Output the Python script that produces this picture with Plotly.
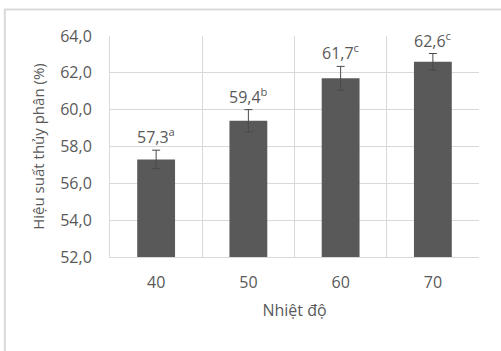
import plotly.graph_objects as go

categories = ["40", "50", "60", "70"]
values = [57.3, 59.4, 61.7, 62.6]
errors = [0.5, 0.6, 0.65, 0.45]
letters = ["a", "b", "c", "c"]
y_ticks = [52, 54, 56, 58, 60, 62, 64]
y_tick_text = ["52,0", "54,0", "56,0", "58,0", "60,0", "62,0", "64,0"]

FONT = "Open Sans"
TXT = "#595959"
GRID = "#d9d9d9"

fig = go.Figure()
fig.add_trace(go.Bar(
    x=categories, y=values,
    marker=dict(color="#595959", line=dict(width=0)),
    error_y=dict(type="data", array=errors, visible=True,
                 color="#4a4a4a", thickness=1, width=4),
    width=0.41,
    hoverinfo="skip",
))

for i, (v, e, l) in enumerate(zip(values, errors, letters)):
    fig.add_annotation(
        x=i, y=v + e, yanchor="bottom", yshift=0,
        text=f"{v:.1f}".replace(".", ",")
             + f"<sup><span style='color:{TXT}'>{l}</span></sup>",
        showarrow=False, font=dict(family=FONT, size=16, color=TXT),
    )

# chart outer border (cut by the image edges)
fig.add_shape(type="rect", xref="paper", yref="paper",
              x0=-0.285, x1=2, y0=-2, y1=1.12,
              line=dict(color=GRID, width=2), layer="below")

fig.update_layout(
    width=501, height=351,
    margin=dict(l=110, r=22, t=36, b=94),
    paper_bgcolor="white", plot_bgcolor="white",
    showlegend=False,
    font=dict(family=FONT, size=16, color=TXT),
    xaxis=dict(
        type="category", tickson="boundaries", range=[-0.5, 3.5],
        categoryorder="array", categoryarray=categories,
        showgrid=True, gridcolor=GRID, gridwidth=1,
        showline=True, linecolor=GRID, linewidth=1,
        ticks="", ticklabelstandoff=11, tickangle=0,
        tickfont=dict(family=FONT, size=16, color=TXT),
        title=dict(text="Nhiệt độ", standoff=12,
                   font=dict(family=FONT, size=16, color=TXT)),
    ),
    yaxis=dict(
        range=[52, 64], tickvals=y_ticks, ticktext=y_tick_text,
        showgrid=True, gridcolor=GRID, gridwidth=1,
        showline=True, linecolor=GRID, linewidth=1,
        zeroline=False, ticks="", ticklabelstandoff=14,
        tickfont=dict(family=FONT, size=16, color=TXT),
        title=dict(text="Hiệu suất thủy phân (%)", standoff=11,
                   font=dict(family=FONT, size=15, color=TXT)),
    ),
)

fig.write_html("out.html",
               config={"displayModeBar": False},
               post_script="document.body.style.margin='0';")
